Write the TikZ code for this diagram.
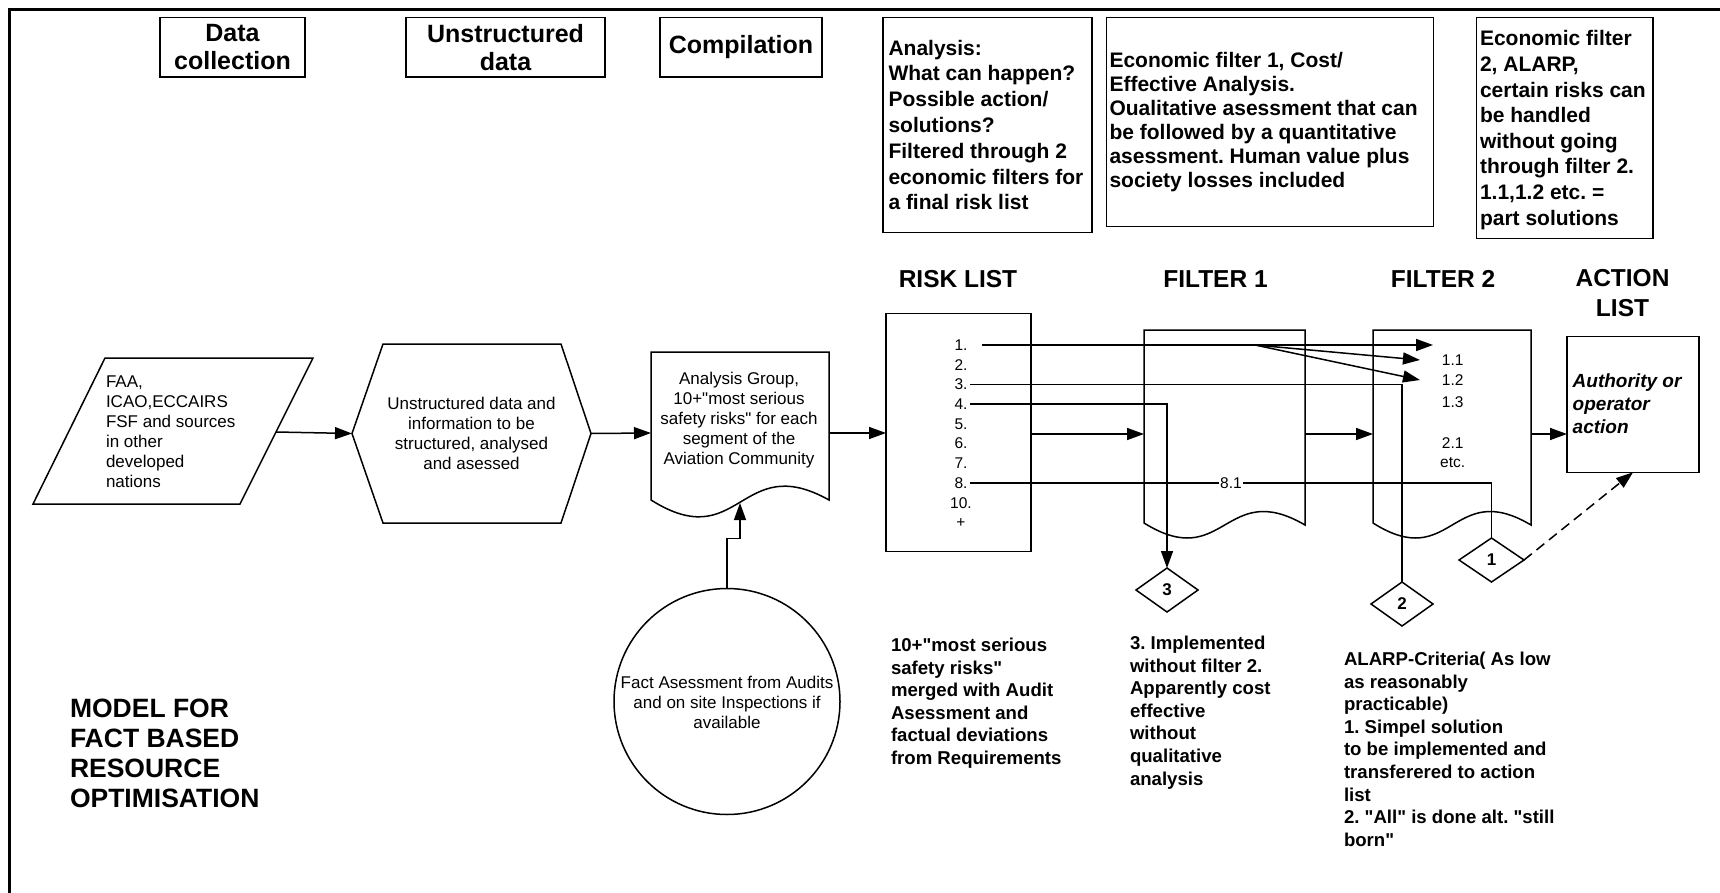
\documentclass[tikz,border=0pt]{standalone}
\usepackage{fontspec}
\setmainfont{Liberation Sans}
\setmonofont{Liberation Sans}
\usetikzlibrary{arrows.meta,shapes.geometric}
\newcommand\fHead{\ttfamily\bfseries\fontsize{25}{28}\selectfont}
\newcommand\fBoxA{\ttfamily\bfseries\fontsize{21}{25.8}\selectfont}
\newcommand\fBoxB{\ttfamily\bfseries\fontsize{21}{24}\selectfont}
\newcommand\fBoxC{\ttfamily\bfseries\fontsize{21}{25.6}\selectfont}
\newcommand\fReg{\ttfamily\fontsize{17}{20}\selectfont}
\newcommand\fNum{\ttfamily\fontsize{15.5}{19.7}\selectfont}
\newcommand\fNote{\ttfamily\bfseries\fontsize{18.6}{22.6}\selectfont}
\newcommand\fTitle{\ttfamily\bfseries\fontsize{24.5}{30}\selectfont}
\newcommand\fModel{\ttfamily\bfseries\fontsize{26.5}{30}\selectfont}
\newcommand\fAct{\ttfamily\bfseries\itshape\fontsize{19}{22.8}\selectfont}
\newcommand\fDia{\ttfamily\bfseries\fontsize{17}{20}\selectfont}
\begin{document}
\begin{tikzpicture}[x=1pt,y=-1pt,
  every node/.style={inner sep=0pt,outer sep=0pt},
  shp/.style={draw,line width=1.5pt,line join=miter},
  rbox/.style={shp,rectangle},
  txt/.style={align=left,anchor=west},
  note/.style={align=left,anchor=north west,font=\fNote},
  ctxt/.style={align=center},
  num/.style={font=\fNum,text height=10.9pt,text depth=0pt},
  conn/.style={line width=1.5pt},
  arr/.style={line width=1.5pt,-{Triangle[length=17pt,width=12pt]}},
  dia/.style={shp,diamond,minimum width=62pt,minimum height=44pt,font=\fDia},
  ghost/.style={rectangle,draw=none}
]
\useasboundingbox (0,0) rectangle (1720,893);
% frame
\draw[line width=2.6pt] (9.5,893) -- (9.5,9.3) -- (1720,9.3);

% header boxes
\node[rbox,minimum width=145pt,minimum height=59.5pt,font=\fHead,align=center] (hdata) at (232.5,47.3) {Data\\collection};
\node[rbox,minimum width=199pt,minimum height=59.5pt,font=\fHead,align=center] (hunstr) at (505.5,47.3) {Unstructured\\data};
\node[rbox,minimum width=162pt,minimum height=59.5pt,font=\fHead] (hcomp) at (741,47.3) {Compilation};

\node[rbox,minimum width=209pt,minimum height=215pt] (anbox) at (987.5,125.2) {};
\node[txt,font=\fBoxA] (antext) at (888.5,125) {Analysis:\\What can happen?\\Possible action/\\solutions?\\Filtered through 2\\economic filters for\\a final risk list};

\node[rbox,minimum width=327pt,minimum height=209pt] (efonebox) at (1270,122) {};
\node[txt,font=\fBoxB] (efonetext) at (1109.5,122) {Economic filter 1, Cost/\\Effective Analysis.\\Oualitative asessment that can\\be followed by a quantitative\\asessment. Human value plus\\society losses included};

\node[rbox,minimum width=176.7pt,minimum height=220.6pt] (eftwobox) at (1564.6,128) {};
\node[txt,font=\fBoxC] (eftwotext) at (1480,130) {Economic filter\\2, ALARP,\\certain risks can\\be handled\\without going\\through filter 2.\\1.1,1.2 etc. =\\part solutions};

% column headings
\node[font=\fTitle] (hrisk) at (958,279) {RISK LIST};
\node[font=\fTitle] (hfone) at (1215.5,279) {FILTER 1};
\node[font=\fTitle] (hftwo) at (1443,279) {FILTER 2};
\node[font=\fTitle,align=center] (hact) at (1622.5,293) {ACTION\\LIST};

% parallelogram
\draw[shp] (105,358) -- (313,358) -- (240,504) -- (33,504) -- cycle;
\node[txt,font=\fReg] (partext) at (106,432) {FAA,\\ICAO,ECCAIRS\\FSF and sources\\in other\\developed\\nations};
\coordinate (parr) at (276,432);

% hexagon
\draw[shp] (383,344) -- (561,344) -- (591,433.5) -- (561,523) -- (383,523) -- (352,433.5) -- cycle;
\node[ghost,minimum width=239pt,minimum height=179pt] (hex) at (471.5,433.5) {};
\node[ctxt,font=\fReg] (hextext) at (471.5,433) {Unstructured data and\\information to be\\structured, analysed\\and asessed};

% document: analysis group
\draw[shp] (651,352) -- (829,352) -- (829,500) .. controls (740,450) and (740,556) .. (651,500) -- cycle;
\node[ghost,minimum width=178pt,minimum height=162pt] (grp) at (740,433) {};
\node[ctxt,font=\fReg] (grptext) at (739,420) {Analysis Group,\\10+"most serious\\safety risks" for each\\segment of the\\Aviation Community};
\coordinate (grptip) at (740,503);

% circle
\node[shp,circle,minimum size=226pt] (circ) at (727,701.5) {};
\node[ctxt,font=\fReg] (circtext) at (727,702) {Fact Asessment from Audits\\and on site Inspections if\\available};

% risk list
\node[rbox,minimum width=145pt,minimum height=238pt] (risk) at (958.5,432.5) {};
\node[num] (r1) at (961,345) {1.};
\node[num] (r2) at (961,364.7) {2.};
\node[num] (r3) at (961,384.4) {3.};
\node[num] (r4) at (961,404.1) {4.};
\node[num] (r5) at (961,423.8) {5.};
\node[num] (r6) at (961,443.5) {6.};
\node[num] (r7) at (961,463.2) {7.};
\node[num] (r8) at (961,482.9) {8.};
\node[num] (r10) at (961,502.6) {10.};
\node[num] (rplus) at (961,522.3) {+};

% filter documents
\draw[shp] (1144,330) -- (1305,330) -- (1305,525) .. controls (1224.5,478) and (1224.5,573) .. (1144,523) -- cycle;
\node[ghost,minimum width=161pt,minimum height=208pt] (fone) at (1224.5,434) {};
\draw[shp] (1373,330) -- (1531,330) -- (1531,525) .. controls (1452,478) and (1452,573) .. (1373,523) -- cycle;
\node[ghost,minimum width=158pt,minimum height=208pt] (ftwo) at (1452,434) {};
\node[num] (f11) at (1452.7,360) {1.1};
\node[num] (f12) at (1452.7,380) {1.2};
\node[num] (f13) at (1452.7,401.7) {1.3};
\node[num] (f21) at (1452.7,442.7) {2.1};
\node[num] (fetc) at (1452.7,462.3) {etc.};

% action list
\node[rbox,minimum width=132pt,minimum height=135.6pt] (act) at (1633,404.5) {};
\node[txt,font=\fAct] (acttext) at (1572.7,404) {Authority or\\operator\\action};

% diamonds
\node[dia] (dthree) at (1167,590) {3};
\node[dia] (dtwo) at (1402,604) {2};
\node[dia,minimum width=65pt] (done) at (1491.5,560) {1};

% notes
\node[note] (noteone) at (891,638) {10+"most serious\\safety risks"\\merged with Audit\\Asessment and\\factual deviations\\from Requirements};
\node[note] (notethree) at (1130,636) {3. Implemented\\without filter 2.\\Apparently cost\\effective\\without\\qualitative\\analysis};
\node[note] (notealarp) at (1344,652) {ALARP-Criteria( As low\\as reasonably\\practicable)\\1. Simpel solution\\to be implemented and\\transferered to action\\list\\2. "All" is done alt. "still\\born"};
\node[align=left,anchor=north west,font=\fModel] (model) at (70,699) {MODEL FOR\\FACT BASED\\RESOURCE\\OPTIMISATION};

% main flow connectors
\draw[arr] (parr) -- (hex.west);
\draw[arr] (hex.east) -- (grp.west);
\draw[arr] (grp.east) -- (grp.east -| risk.west);
\draw[arr] (circ.north) -- ++(0,-50) -- ++(13,0) -- (grptip);
\draw[arr] (fone.west -| risk.east) -- (fone.west);
\draw[arr] (fone.east) -- (ftwo.west);
\draw[arr] (ftwo.east) -- (ftwo.east -| act.west);

% risk item connectors
\coordinate (ftwotip) at (1433,344);
\coordinate (brx) at (1255,344);
\draw[arr] ([xshift=15pt]r1.east) -- (r1.east -| ftwotip);
\draw[arr] (r1.east -| brx) -- ([xshift=-22pt]f11.west);
\draw[arr] (r1.east -| brx) -- ([xshift=-22pt]f12.west);
\draw[conn] ([xshift=3pt]r3.east) -| (dtwo.north);
\draw[arr] ([xshift=3pt]r4.east) -| (dthree.north);
\draw[conn] ([xshift=3pt]r8.east) -| node[pos=0.25,fill=white,font=\fNum,inner sep=1.5pt] (lbleight) {8.1} (done.north);
\draw[arr,dash pattern=on 10pt off 6pt] (done.east) -- (act.south);
\end{tikzpicture}
\end{document}
